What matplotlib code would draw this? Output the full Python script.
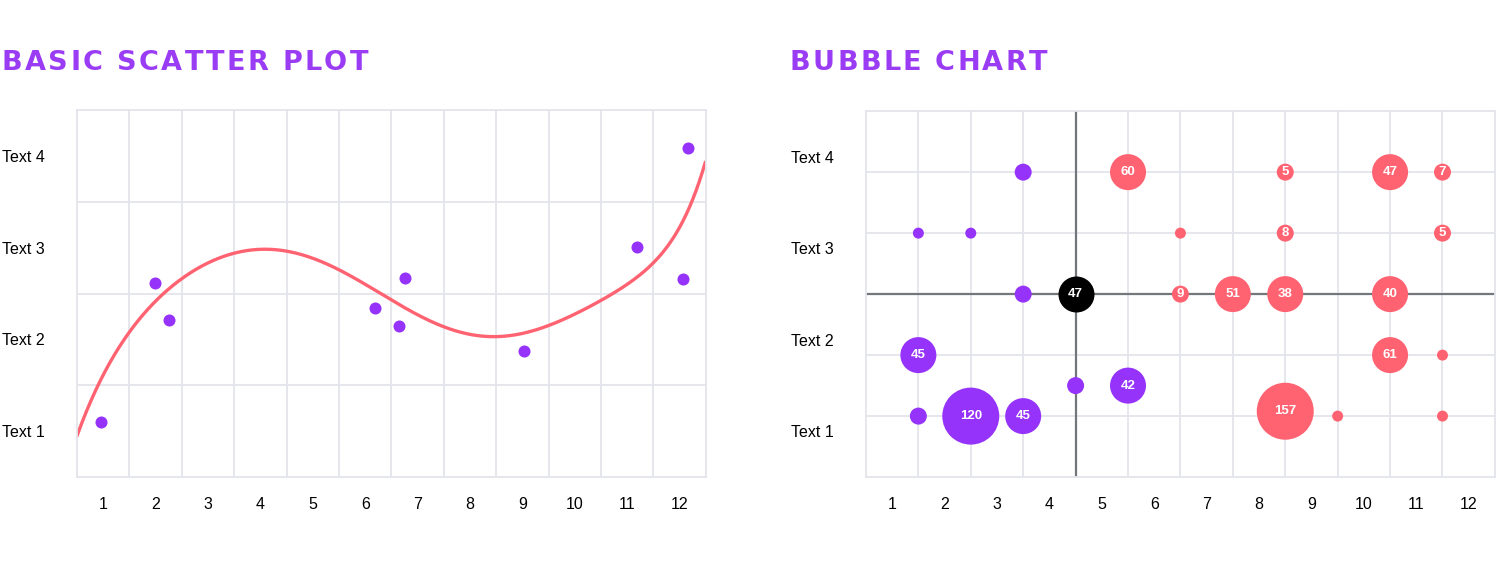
import matplotlib.pyplot as plt
import numpy as np

# left chart: scatter points + trend curve
scatter_x = [0.96, 1.99, 2.26, 6.19, 6.65, 6.76, 9.03, 11.19, 12.06, 12.16]
scatter_y = [1.10, 2.61, 2.21, 2.34, 2.15, 2.67, 1.87, 3.01, 2.66, 4.09]
trend_x = [0.52, 0.75, 1.00, 1.32, 1.64, 2.02, 2.53, 3.04, 3.55, 4.06, 4.50, 4.88,
           5.52, 6.03, 6.47, 6.92, 7.43, 7.94, 8.44, 8.95, 9.53, 10.04, 10.48,
           10.99, 11.43, 11.88, 12.19, 12.39, 12.47]
trend_y = [0.98, 1.30, 1.63, 1.92, 2.18, 2.43, 2.68, 2.85, 2.94, 2.97, 2.96, 2.92,
           2.77, 2.59, 2.43, 2.28, 2.14, 2.07, 2.05, 2.07, 2.16, 2.27, 2.39,
           2.61, 2.83, 3.12, 3.41, 3.70, 3.95]

x_labels = [str(i) for i in range(1, 13)]
y_labels = ['Text 1', 'Text 2', 'Text 3', 'Text 4']

# right chart: bubbles (size class 1..4)
purple_x = [1.5, 2.5, 3.5, 1.5, 4.5, 5.5, 3.5, 1.5, 2.5, 3.5]
purple_y = [1, 1, 1, 2, 1.5, 1.5, 3, 4, 4, 5]
purple_size = [2, 4, 3, 3, 2, 3, 2, 1, 1, 2]
purple_label = ['', '120', '45', '45', '', '42', '', '', '', '']

black_x = [4.5]
black_y = [3]
black_size = [3]
black_label = ['47']

red_x = [5.5, 8.5, 10.5, 11.5, 6.5, 8.5, 11.5, 6.5, 7.5, 8.5, 10.5, 10.5, 11.5, 8.5, 9.5, 11.5]
red_y = [5, 5, 5, 5, 4, 4, 4, 3, 3, 3, 3, 2, 2, 1.08, 1, 1]
red_size = [3, 2, 3, 2, 1, 2, 2, 2, 3, 3, 3, 3, 1, 4, 1, 1]
red_label = ['60', '5', '47', '7', '', '8', '5', '9', '51', '38', '40', '61', '', '157', '', '']

PURPLE = '#9633fb'
RED = '#ff6372'
GRID = '#e4e5ec'
DARK = '#73767a'
TITLE = '#9b3cf5'
diam_px = {1: 11, 2: 17, 3: 36, 4: 57}

plt.rcParams['font.family'] = ['Liberation Sans', 'DejaVu Sans']

fig = plt.figure(figsize=(15, 5.7), dpi=100)
ax1 = fig.add_axes([0.0513, 0.163, 0.4193, 0.644])
ax2 = fig.add_axes([0.5773, 0.163, 0.4193, 0.642])


def style_axes(ax, ylim, ygrid, ytick_pos):
    ax.set_xlim(0.5, 12.5)
    ax.set_ylim(*ylim)
    for s in ax.spines.values():
        s.set_color(GRID)
        s.set_linewidth(1.3)
    for gx in np.arange(1.5, 12.5, 1):
        ax.axvline(gx, color=GRID, lw=1.3, zorder=0)
    for gy in ygrid:
        ax.axhline(gy, color=GRID, lw=1.3, zorder=0)
    ax.set_xticks(range(1, 13), x_labels)
    ax.set_yticks(ytick_pos, y_labels)
    ax.tick_params(axis='x', length=0, pad=14, labelsize=11.5, colors='black')
    ax.tick_params(axis='y', length=0, pad=54, labelsize=11.5, colors='black')
    for lab in ax.get_yticklabels():
        lab.set_ha('left')


style_axes(ax1, (0.5, 4.5), [1.5, 2.5, 3.5], [1, 2, 3, 4])
ax1.scatter(scatter_x, scatter_y, s=75, color=PURPLE, zorder=3, linewidths=0)
# smooth trend line fitted through the curve points
trend = np.polynomial.Polynomial.fit(trend_x, trend_y, 8)
xs = np.linspace(trend_x[0] - 0.02, trend_x[-1] + 0.02, 400)
ax1.plot(xs, trend(xs), color=RED, lw=2.4, zorder=2, solid_capstyle='round')

style_axes(ax2, (0, 6), [1, 2, 3, 4, 5], [0.75, 2.25, 3.75, 5.25])
ax2.axvline(4.5, color=DARK, lw=1.6, zorder=1)
ax2.axhline(3, color=DARK, lw=1.6, zorder=1)


def bubbles(xv, yv, sizes, labels, color):
    s = [(diam_px[k] * 0.72) ** 2 for k in sizes]
    ax2.scatter(xv, yv, s=s, color=color, linewidths=0, zorder=3)
    for x, y, t in zip(xv, yv, labels):
        if t:
            ax2.text(x, y, t, color='white', fontsize=9.5, fontweight='bold',
                     ha='center', va='center', zorder=4)


bubbles(purple_x, purple_y, purple_size, purple_label, PURPLE)
bubbles(black_x, black_y, black_size, black_label, 'black')
bubbles(red_x, red_y, red_size, red_label, RED)


def spaced_title(text, x0_px, x1_px, base_px):
    # draw letter by letter so the letter spacing can be widened
    renderer = fig.canvas.get_renderer()
    W, H = fig.bbox.width, fig.bbox.height
    arts, widths = [], []
    for ch in text:
        t = fig.text(0, 1 - base_px / H, ch, color=TITLE, fontsize=19.5,
                     fontweight='bold', family='DejaVu Sans', va='baseline', ha='left')
        arts.append(t)
        widths.append(t.get_window_extent(renderer).width if ch != ' ' else 0)
    sp_w = widths[0] * 0.45
    widths = [w if ch != ' ' else sp_w for w, ch in zip(widths, text)]
    gap = (x1_px - x0_px - sum(widths)) / (len(text) - 1)
    x = x0_px
    for t, w in zip(arts, widths):
        t.set_x(x / W)
        x += w + gap


spaced_title('BASIC SCATTER PLOT', 2, 368, 69.5)
spaced_title('BUBBLE CHART', 790, 1047, 69.5)

fig.savefig('out.png', dpi=100, facecolor='white')
